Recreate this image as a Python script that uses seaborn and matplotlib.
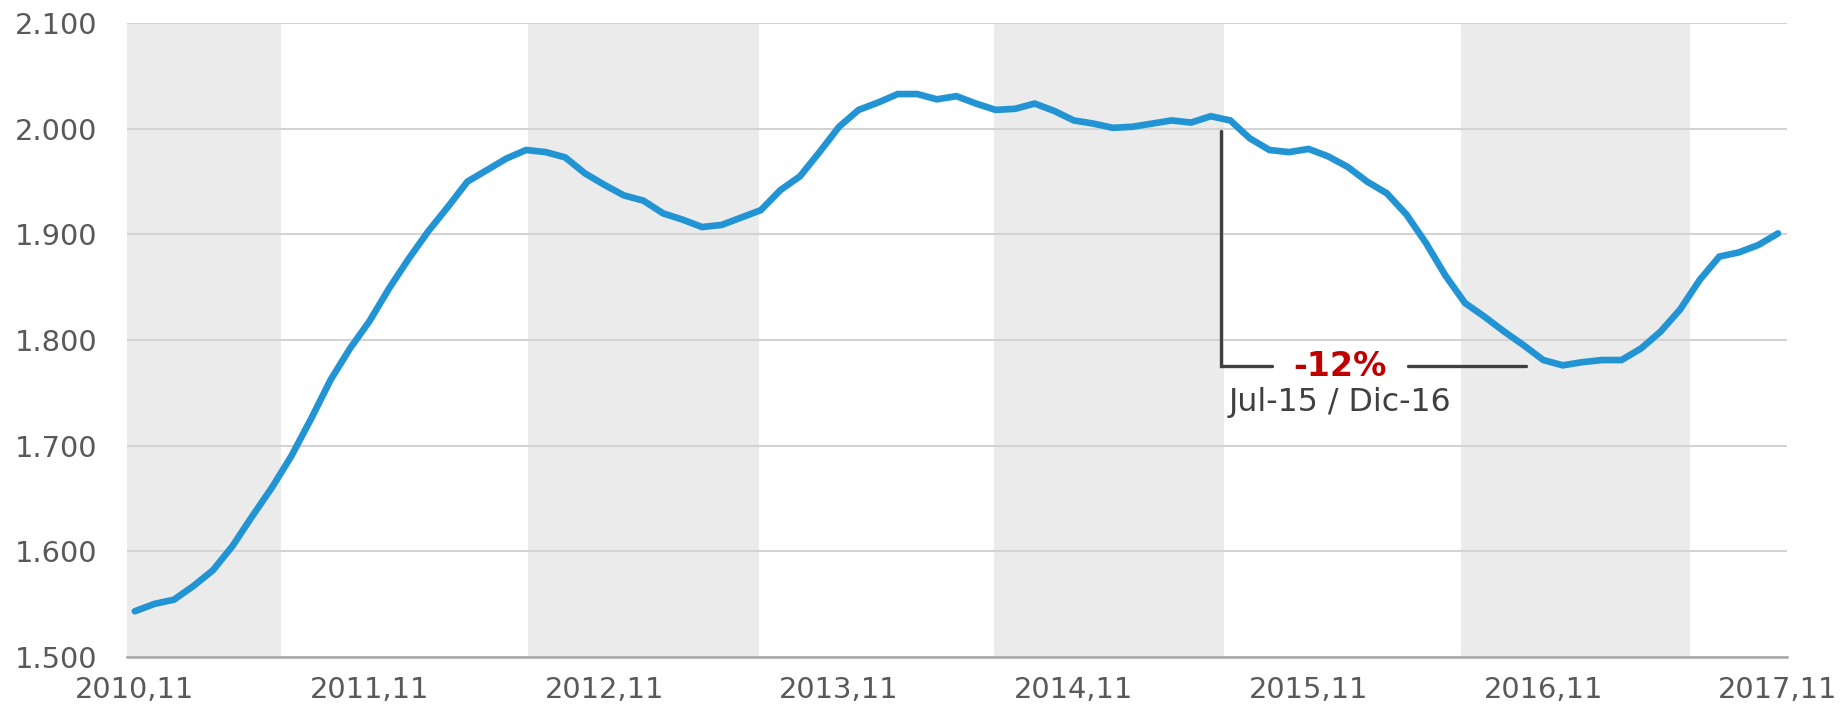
import pandas as pd
import matplotlib
matplotlib.use("Agg")
import matplotlib.pyplot as plt
import seaborn as sns
from matplotlib.ticker import FuncFormatter

# monthly values, 2010-11 to 2017-11
values = [1543, 1550, 1554, 1567, 1582, 1605, 1633, 1660, 1690, 1725,
          1762, 1792, 1818, 1849, 1877, 1903, 1926, 1950, 1961, 1972,
          1980, 1978, 1973, 1958, 1947, 1937, 1932, 1920, 1914, 1907,
          1909, 1916, 1923, 1942, 1955, 1978, 2002, 2018, 2025, 2033,
          2033, 2028, 2031, 2024, 2018, 2019, 2024, 2017, 2008, 2005,
          2001, 2002, 2005, 2008, 2006, 2012, 2008, 1991, 1980, 1978,
          1981, 1974, 1964, 1950, 1939, 1919, 1892, 1861, 1835, 1822,
          1808, 1795, 1781, 1776, 1779, 1781, 1781, 1792, 1808, 1829,
          1857, 1879, 1883, 1890, 1901]
tick_labels = ["2010,11", "2011,11", "2012,11", "2013,11",
               "2014,11", "2015,11", "2016,11", "2017,11"]
# shaded periods, in months since 2010-11
bands = [(-0.42, 7.46), (20.1, 31.9), (43.9, 55.7), (67.8, 79.5)]
change_label = "-12%"
period_label = "Jul-15 / Dic-16"

df = pd.DataFrame({"month": range(len(values)), "value": values})

sns.set_style("white")
plt.rcParams["font.family"] = ["DejaVu Sans"]

fig, ax = plt.subplots(figsize=(18.43, 7.13), dpi=100)
fig.subplots_adjust(left=0.0687, right=0.9694, bottom=0.079, top=0.9673)

for a, b in bands:
    ax.axvspan(a, b, color="#ebebeb", lw=0, zorder=0)

sns.lineplot(data=df, x="month", y="value", ax=ax, color="#2394d3",
             lw=4.8, zorder=3, solid_capstyle="round", solid_joinstyle="miter")

ax.set_xlim(-0.42, 84.44)
ax.set_ylim(1500, 2100)
ax.set_yticks(range(1500, 2101, 100))
ax.yaxis.set_major_formatter(FuncFormatter(lambda v, p: f"{v:,.0f}".replace(",", ".")))
ax.set_xticks(range(0, 85, 12))
ax.set_xticklabels(tick_labels)
ax.set_xlabel("")
ax.set_ylabel("")

ax.grid(axis="y", color="#d3d3d3", lw=1.5, zorder=0.5)
ax.set_axisbelow(True)
ax.tick_params(axis="both", length=0, labelsize=20.8, labelcolor="#595959")
ax.tick_params(axis="y", pad=21)
ax.tick_params(axis="x", pad=14)
for s in ["left", "right", "top"]:
    ax.spines[s].set_visible(False)
ax.spines["bottom"].set_color("#a6a6a6")
ax.spines["bottom"].set_linewidth(1.8)

# bracket annotation for the drop
ax.plot([55.55, 55.55, 58.13], [1997.6, 1775.8, 1775.8], color="#404040",
        lw=2.4, zorder=4, solid_joinstyle="miter")
ax.plot([65.08, 71.1], [1775.8, 1775.8], color="#404040", lw=2.4, zorder=4)
ax.text(61.6, 1775, change_label, color="#c00000", fontsize=24,
        fontweight="bold", ha="center", va="center", zorder=5)
ax.text(61.6, 1741, period_label, color="#404040", fontsize=22.8,
        ha="center", va="center", zorder=5)

fig.savefig("out.png", dpi=100)
